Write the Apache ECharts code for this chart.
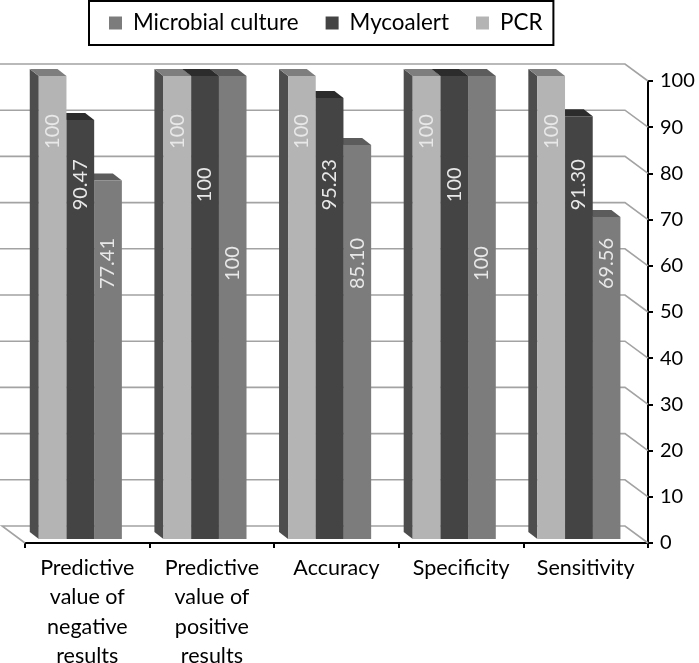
<!DOCTYPE html>
<html>
<head>
<meta charset="utf-8">
<style>html,body{margin:0;padding:0;background:#fff}#c{width:699px;height:663px}</style>
<script src="https://cdn.jsdelivr.net/npm/echarts@6/dist/echarts.min.js"></script>
</head>
<body>
<div id="c"></div>
<script>
var categories = ['Predictive\nvalue of\nnegative\nresults', 'Predictive\nvalue of\npositive\nresults', 'Accuracy', 'Specificity', 'Sensitivity'];
var pcr = [100, 100, 100, 100, 100];
var mycoalert = [90.47, 100, 95.23, 100, 91.30];
var microbial = [77.41, 100, 85.10, 100, 69.56];
var ticks = [0, 10, 20, 30, 40, 50, 60, 70, 80, 90, 100];

var FONT = 'Lato, Carlito, "Open Sans", sans-serif';
var DEPTH_X = 9, DEPTH_Y = 7, WALL_X = 23, WALL_Y = 17;
var BAR_W = 27.7;

function fmt(v) { return v === 100 ? '100' : v.toFixed(2); }

function barSeries(name, values, slot, front, top, side, labelValue) {
  return {
    type: 'custom', name: name, xAxisIndex: 2, yAxisIndex: 2, clip: false,
    itemStyle: { color: front },
    encode: { x: 0, y: 1 },
    data: values.map(function (v, i) { return [i, v]; }),
    renderItem: function (params, api) {
      var i = api.value(0), v = api.value(1);
      var t = api.coord([i, v]), b = api.coord([i, 0]);
      var x = t[0] + (slot - 1.5) * BAR_W, y = t[1], h = b[1] - t[1];
      var lab = api.coord([i, labelValue]);
      return {
        type: 'group',
        children: [
          { type: 'polygon', shape: { points: [[x, y], [x - DEPTH_X, y - DEPTH_Y], [x - DEPTH_X, y + h - DEPTH_Y], [x, y + h]] }, style: { fill: side } },
          { type: 'polygon', shape: { points: [[x, y], [x - DEPTH_X, y - DEPTH_Y], [x + BAR_W - DEPTH_X, y - DEPTH_Y], [x + BAR_W, y]] }, style: { fill: top } },
          { type: 'rect', shape: { x: x, y: y, width: BAR_W, height: h }, style: { fill: front } },
          { type: 'text', x: x + BAR_W / 2, y: lab[1], rotation: Math.PI / 2,
            style: { text: fmt(v), fill: '#e8e8e8', font: '20px ' + FONT, align: 'center', verticalAlign: 'middle' } }
        ]
      };
    }
  };
}

var option = {
  animation: false,
  backgroundColor: '#fff',
  textStyle: { fontFamily: FONT },
  legend: {
    left: 89, top: 1, selectedMode: false, icon: 'rect',
    itemWidth: 13, itemHeight: 13, itemGap: 27,
    padding: [11, 11, 11, 20],
    borderColor: '#000', borderWidth: 2,
    textStyle: { fontFamily: FONT, fontSize: 22.4, color: '#000', padding: [0, 0, 0, 6] },
    data: ['Microbial culture', 'Mycoalert', 'PCR']
  },
  grid: [
    { left: 25, right: 51, top: 81, bottom: 120, outerBoundsMode: 'none' },
    { left: 0, right: 74, top: 64, bottom: 137, outerBoundsMode: 'none' },
    { left: 18, width: 623.2, top: 76, bottom: 124, outerBoundsMode: 'none' }
  ],
  xAxis: [
    { type: 'category', gridIndex: 0, data: categories,
      axisLine: { lineStyle: { color: '#000', width: 2 } },
      axisTick: { show: true, alignWithLabel: false, length: 5, lineStyle: { color: '#000', width: 2 } },
      axisLabel: { color: '#000', fontSize: 21.5, fontFamily: FONT, lineHeight: 29.5, margin: 10, interval: 0 } },
    { type: 'category', gridIndex: 1, data: categories, show: false },
    { type: 'category', gridIndex: 2, data: categories, show: false }
  ],
  yAxis: [
    { type: 'value', gridIndex: 0, position: 'right', min: 0, max: 100, interval: 10,
      splitLine: { show: false },
      axisLine: { show: true, lineStyle: { color: '#000', width: 2 } },
      axisTick: { show: true, length: 5, lineStyle: { color: '#000', width: 2 } },
      axisLabel: { color: '#000', fontSize: 20, fontFamily: FONT, margin: 12 } },
    { type: 'value', gridIndex: 1, min: 0, max: 100, interval: 10, show: false },
    { type: 'value', gridIndex: 2, min: 0, max: 100, interval: 10, show: false }
  ],
  series: [
    {
      type: 'custom', xAxisIndex: 1, yAxisIndex: 1, clip: false, silent: true,
      data: ticks.map(function (v) { return [0, v]; }),
      encode: { x: 0, y: 1 },
      renderItem: function (params, api) {
        var v = api.value(1), y = api.coord([0, v])[1], cs = params.coordSys;
        var r = cs.x + cs.width;
        var pts = v === 0
          ? [[cs.x + WALL_X + 2, y + WALL_Y], [cs.x + 2, y], [r, y], [r + WALL_X, y + WALL_Y]]
          : [[cs.x, y], [r, y], [r + WALL_X, y + WALL_Y]];
        return { type: 'polyline', shape: { points: pts }, style: { fill: null, stroke: '#a3a3a3', lineWidth: 1.6 } };
      }
    },
    barSeries('Microbial culture', microbial, 2, '#7c7c7c', '#5c5c5c', '#5c5c5c', 59.5),
    barSeries('Mycoalert', mycoalert, 1, '#444444', '#2c2c2c', '#2c2c2c', 76.5),
    barSeries('PCR', pcr, 0, '#b4b4b4', '#7e7e7e', '#4d4d4d', 88)
  ]
};
var chart = echarts.init(document.getElementById('c'), null, { renderer: 'canvas' });
chart.setOption(option);
</script>
</body>
</html>
